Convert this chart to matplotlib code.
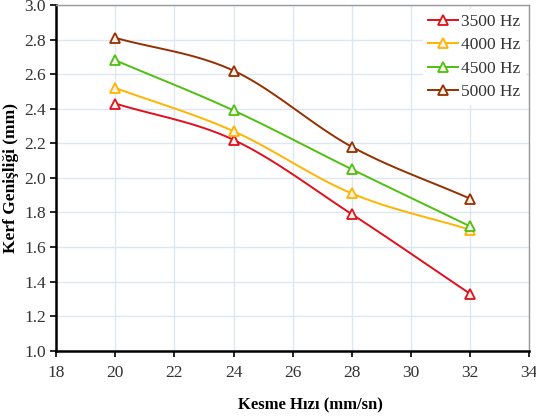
import matplotlib.pyplot as plt
import numpy as np

plt.rcParams["font.family"] = ["Liberation Serif", "DejaVu Serif"]

hiz = [20, 24, 28, 32]
seriler = ["3500 Hz", "4000 Hz", "4500 Hz", "5000 Hz"]
kerf_3500 = [2.43, 2.22, 1.79, 1.33]
kerf_4000 = [2.52, 2.27, 1.91, 1.70]
kerf_4500 = [2.68, 2.39, 2.05, 1.72]
kerf_5000 = [2.81, 2.62, 2.18, 1.88]
renkler = ["#e0101c", "#ffb400", "#4fbf10", "#963000"]


def yumusat(xs, ys, n=30):
    # Catmull-Rom style smoothing like Excel's "smoothed line"
    xs = np.asarray(xs, float)
    ys = np.asarray(ys, float)
    px = np.concatenate([[2 * xs[0] - xs[1]], xs, [2 * xs[-1] - xs[-2]]])
    py = np.concatenate([[2 * ys[0] - ys[1]], ys, [2 * ys[-1] - ys[-2]]])
    ox, oy = [], []
    t = np.linspace(0, 1, n)
    for i in range(1, len(px) - 2):
        for p, out in ((px, ox), (py, oy)):
            p0, p1, p2, p3 = p[i - 1], p[i], p[i + 1], p[i + 2]
            out.extend(0.5 * ((2 * p1) + (-p0 + p2) * t
                              + (2 * p0 - 5 * p1 + 4 * p2 - p3) * t ** 2
                              + (-p0 + 3 * p1 - 3 * p2 + p3) * t ** 3))
    return ox, oy


fig = plt.figure(figsize=(5.36, 4.19), dpi=100)
ax = fig.add_axes([0.105, 0.163, 0.882, 0.825])

for ad, ys, renk in zip(seriler, [kerf_3500, kerf_4000, kerf_4500, kerf_5000], renkler):
    sx, sy = yumusat(hiz, ys)
    ax.plot(sx, sy, color=renk, linewidth=1.4)
    ax.plot(hiz, ys, linestyle="none", marker="^", markersize=7,
            markerfacecolor="#f4f0e8", markeredgecolor=renk, markeredgewidth=1.3)
    ax.plot([], [], color=renk, linewidth=1.4, marker="^", markersize=7,
            markerfacecolor="#f4f0e8", markeredgecolor=renk, markeredgewidth=1.3, label=ad)

ax.set_xlim(18, 34)
ax.set_ylim(1.0, 3.0)
ax.set_xticks(np.arange(18, 35, 2))
ax.set_yticks(np.arange(1.0, 3.01, 0.2))
ax.set_yticklabels([f"{v:.1f}" for v in np.arange(1.0, 3.01, 0.2)])
ax.grid(True, color="#dce6f4", linewidth=1.0)
ax.set_axisbelow(True)

for s in ["left", "bottom"]:
    ax.spines[s].set_linewidth(1.8)
    ax.spines[s].set_color("black")
for s in ["top", "right"]:
    ax.spines[s].set_linewidth(1.0)
    ax.spines[s].set_color("#999999")

ax.tick_params(axis="both", labelsize=12.5, direction="out", length=4, width=1.2,
               colors="black", labelcolor="#333333")
ax.tick_params(axis="x", pad=6)

ax.set_xlabel("Kesme Hızı (mm/sn)", fontsize=12, fontweight="bold")
ax.xaxis.set_label_coords(0.29 + 0.0, -0.135)
ax.xaxis.label.set_x(0.537)
ax.set_ylabel("Kerf Genişliği (mm)", fontsize=12.5, fontweight="bold", labelpad=4)

ax.legend(loc="upper right", frameon=True, fontsize=12.5, edgecolor="none",
          facecolor="white", framealpha=1, handlelength=1.7, handletextpad=0.2,
          labelspacing=0.42, borderaxespad=0.2, borderpad=0.3,
          labelcolor="#333333")

fig.savefig("out.png", dpi=100)
